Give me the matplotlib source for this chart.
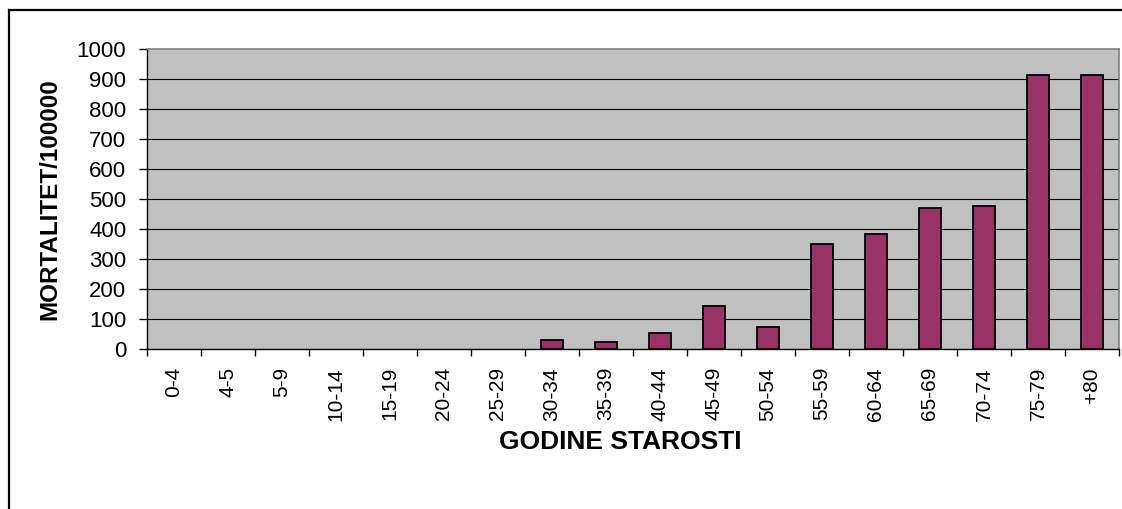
import matplotlib
matplotlib.use("Agg")
import matplotlib.pyplot as plt
from matplotlib.lines import Line2D
import numpy as np

categories = ["0-4", "4-5", "5-9", "10-14", "15-19", "20-24", "25-29", "30-34",
              "35-39", "40-44", "45-49", "50-54", "55-59", "60-64", "65-69",
              "70-74", "75-79", "+80"]
values = [0, 0, 0, 0, 0, 0, 0, 30, 22, 54, 143, 74, 350, 382, 470, 477, 912, 912]
y_ticks = [0, 100, 200, 300, 400, 500, 600, 700, 800, 900, 1000]
x_title = "GODINE STAROSTI"
y_title = "MORTALITET/100000"

plt.rcParams['font.family'] = ['Liberation Sans', 'DejaVu Sans']

W, H = 1122, 509
fig = plt.figure(figsize=(W / 100, H / 100), dpi=100)
fig.patch.set_facecolor("white")

ax = fig.add_axes([147 / W, 1 - 349 / H, (1119 - 147) / W, 300 / H])
ax.set_facecolor("#C0C0C0")

x = np.arange(len(categories))
edge_widths = [1.3 if v > 0 else 0 for v in values]
ax.bar(x, values, width=0.42, color="#993366", edgecolor="black",
       linewidth=edge_widths, zorder=3)

ax.set_xlim(-0.5, len(categories) - 0.5)
ax.set_ylim(0, 1000)
ax.set_yticks(y_ticks)
ax.set_yticklabels([str(v) for v in y_ticks], fontsize=16)
ax.tick_params(axis="y", direction="out", length=6, width=1, pad=9, colors="black")

ax.set_xticks(x)
ax.set_xticklabels(categories, rotation=90, fontsize=15)
ax.tick_params(axis="x", which="major", length=0, pad=13)
ax.set_xticks(np.arange(-0.5, len(categories), 1), minor=True)
ax.tick_params(axis="x", which="minor", direction="out", length=5, width=1)

for v in y_ticks[1:-1]:
    ax.axhline(v, color="black", linewidth=0.8, zorder=1)

for s in ["top", "right"]:
    ax.spines[s].set_color("#808080")
    ax.spines[s].set_linewidth(1.2)
for s in ["left", "bottom"]:
    ax.spines[s].set_color("black")
    ax.spines[s].set_linewidth(1.0)

fig.text(620 / W, 1 - 442 / H, x_title, fontsize=19, fontweight="bold",
         ha="center", va="center")
fig.text(50 / W, 1 - 199 / H, y_title, fontsize=17.5, fontweight="bold",
         ha="center", va="center", rotation=90)

# outer frame (left and top edges only)
fig.add_artist(Line2D([8.5 / W, 8.5 / W], [0, 1 - 10 / H], transform=fig.transFigure,
                      color="black", linewidth=1.6))
fig.add_artist(Line2D([8.5 / W, 1], [1 - 10 / H, 1 - 10 / H], transform=fig.transFigure,
                      color="black", linewidth=1.6))

fig.savefig("out.png", dpi=100)
